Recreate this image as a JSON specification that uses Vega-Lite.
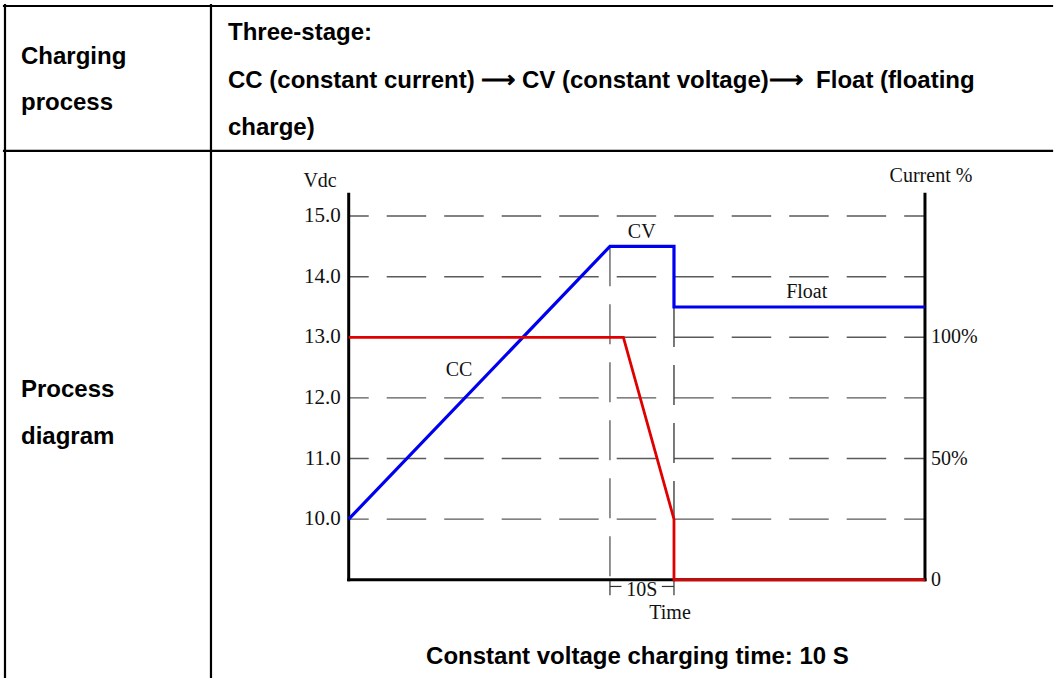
{
  "$schema": "https://vega.github.io/schema/vega-lite/v6.json",
  "width": 1062,
  "height": 679,
  "padding": 0,
  "autosize": {"type": "fit", "contains": "padding"},
  "background": "white",
  "config": {"view": {"stroke": null}},
  "datasets": {
    "blue": [{"t": 0, "V": 10}, {"t": 40.8, "V": 14.5}, {"t": 50.8, "V": 14.5}, {"t": 50.8, "V": 13.5}, {"t": 90, "V": 13.5}],
    "red": [{"t": 0, "c": 100}, {"t": 42.9, "c": 100}, {"t": 50.8, "c": 25}, {"t": 50.8, "c": 0}, {"t": 90, "c": 0}],
    "grid": [{"V": 10}, {"V": 11}, {"V": 12}, {"V": 13}, {"V": 14}, {"V": 15}],
    "ticks": [{"V": 10, "label": "10.0"}, {"V": 11, "label": "11.0"}, {"V": 12, "label": "12.0"}, {"V": 13, "label": "13.0"}, {"V": 14, "label": "14.0"}, {"V": 15, "label": "15.0"}],
    "pct": [{"c": 100, "label": "100%"}, {"c": 50, "label": "50%"}, {"c": 0, "label": "0"}],
    "axislines": [
      {"t": 0, "t2": 0, "V": 9, "V2": 15.36},
      {"t": 0, "t2": 90, "V": 9, "V2": 9},
      {"t": 90, "t2": 90, "V": 9, "V2": 15.36}
    ],
    "bracket": [
      {"t": 40.8, "t2": 42.6, "V": 8.89, "V2": 8.89},
      {"t": 48.9, "t2": 50.8, "V": 8.89, "V2": 8.89},
      {"t": 40.8, "t2": 40.8, "V": 9, "V2": 8.745},
      {"t": 50.8, "t2": 50.8, "V": 9, "V2": 8.745}
    ],
    "notes": [
      {"t": -4.47, "V": 15.571, "text": "Vdc"},
      {"t": 45.76, "V": 14.732, "text": "CV"},
      {"t": 71.53, "V": 13.753, "text": "Float"},
      {"t": 17.23, "V": 12.467, "text": "CC"},
      {"t": 45.76, "V": 8.836, "text": "10S"},
      {"t": 50.18, "V": 8.449, "text": "Time"},
      {"t": 90.94, "V": 15.653, "text": "Current %"}
    ],
    "frame": [
      {"t": -53.83, "t2": 109.84, "V": 18.465, "V2": 18.465},
      {"t": -53.68, "t2": -53.68, "V": 18.48, "V2": 7.3964},
      {"t": -21.51, "t2": -21.51, "V": 18.48, "V2": 7.3964},
      {"t": -53.83, "t2": 109.84, "V": 16.076, "V2": 16.076}
    ],
    "cells": [
      {"t": -51.18, "V": 17.511, "text": "Charging"},
      {"t": -51.18, "V": 16.755, "text": "process"},
      {"t": -51.18, "V": 12.013, "text": "Process"},
      {"t": -51.18, "V": 11.245, "text": "diagram"},
      {"t": -18.85, "V": 17.906, "text": "Three-stage:"},
      {"t": -18.85, "V": 17.117, "text": "CC (constant current) ⟶ CV (constant voltage)⟶\u00a0 Float (floating"},
      {"t": -18.85, "V": 16.344, "text": "charge)"}
    ],
    "caption": [{"t": 45.1, "V": 7.618, "text": "Constant voltage charging time: 10 S"}]
  },
  "layer": [
    {
      "layer": [
        {
          "data": {"name": "grid"},
          "mark": {"type": "rule", "color": "#5a5a5a", "strokeWidth": 1.4, "strokeDash": [39.5, 18], "strokeDashOffset": 19.5},
          "encoding": {
            "x": {"datum": 0, "type": "quantitative", "scale": {"domain": [-54.46, 111.4], "nice": false, "zero": false}, "axis": null},
            "x2": {"datum": 90},
            "y": {"field": "V", "type": "quantitative", "scale": {"domain": [7.3964, 18.564], "nice": false, "zero": false}, "axis": null}
          }
        },
        {
          "data": {"values": [{}]},
          "mark": {"type": "rule", "color": "#777777", "strokeWidth": 1.6, "strokeDash": [40, 18]},
          "encoding": {
            "x": {"datum": 40.8, "type": "quantitative", "scale": {"domain": [-54.46, 111.4], "nice": false, "zero": false}, "axis": null},
            "y": {"datum": 14.5, "type": "quantitative", "scale": {"domain": [7.3964, 18.564], "nice": false, "zero": false}, "axis": null},
            "y2": {"datum": 9}
          }
        },
        {
          "data": {"values": [{}]},
          "mark": {"type": "rule", "color": "#222222", "strokeWidth": 1.2, "strokeDash": [40, 18]},
          "encoding": {
            "x": {"datum": 50.8, "type": "quantitative", "scale": {"domain": [-54.46, 111.4], "nice": false, "zero": false}, "axis": null},
            "y": {"datum": 13.5, "type": "quantitative", "scale": {"domain": [7.3964, 18.564], "nice": false, "zero": false}, "axis": null},
            "y2": {"datum": 9}
          }
        },
        {
          "data": {"name": "bracket"},
          "mark": {"type": "rule", "color": "#333333", "strokeWidth": 1.2},
          "encoding": {
            "x": {"field": "t", "type": "quantitative", "scale": {"domain": [-54.46, 111.4], "nice": false, "zero": false}, "axis": null},
            "x2": {"field": "t2"},
            "y": {"field": "V", "type": "quantitative", "scale": {"domain": [7.3964, 18.564], "nice": false, "zero": false}, "axis": null},
            "y2": {"field": "V2"}
          }
        },
        {
          "data": {"name": "axislines"},
          "mark": {"type": "rule", "color": "black", "strokeWidth": 3, "strokeCap": "square"},
          "encoding": {
            "x": {"field": "t", "type": "quantitative", "scale": {"domain": [-54.46, 111.4], "nice": false, "zero": false}, "axis": null},
            "x2": {"field": "t2"},
            "y": {"field": "V", "type": "quantitative", "scale": {"domain": [7.3964, 18.564], "nice": false, "zero": false}, "axis": null},
            "y2": {"field": "V2"}
          }
        },
        {
          "data": {"name": "blue"},
          "mark": {"type": "line", "color": "#0000f0", "strokeWidth": 3.2},
          "encoding": {
            "x": {"field": "t", "type": "quantitative", "scale": {"domain": [-54.46, 111.4], "nice": false, "zero": false}, "axis": null},
            "y": {"field": "V", "type": "quantitative", "scale": {"domain": [7.3964, 18.564], "nice": false, "zero": false}, "axis": null},
            "order": {"value": null}
          }
        },
        {
          "data": {"name": "ticks"},
          "mark": {"type": "text", "align": "right", "baseline": "middle", "dx": -8, "font": "Liberation Serif", "fontSize": 21, "color": "#111111"},
          "encoding": {
            "x": {"datum": 0, "type": "quantitative", "scale": {"domain": [-54.46, 111.4], "nice": false, "zero": false}, "axis": null},
            "y": {"field": "V", "type": "quantitative", "scale": {"domain": [7.3964, 18.564], "nice": false, "zero": false}, "axis": null},
            "text": {"field": "label"}
          }
        },
        {
          "data": {"name": "notes"},
          "mark": {"type": "text", "align": "center", "baseline": "middle", "font": "Liberation Serif", "fontSize": 20, "color": "#111111"},
          "encoding": {
            "x": {"field": "t", "type": "quantitative", "scale": {"domain": [-54.46, 111.4], "nice": false, "zero": false}, "axis": null},
            "y": {"field": "V", "type": "quantitative", "scale": {"domain": [7.3964, 18.564], "nice": false, "zero": false}, "axis": null},
            "text": {"field": "text"}
          }
        },
        {
          "data": {"name": "frame"},
          "mark": {"type": "rule", "color": "black", "strokeWidth": 2.2, "strokeCap": "square"},
          "encoding": {
            "x": {"field": "t", "type": "quantitative", "scale": {"domain": [-54.46, 111.4], "nice": false, "zero": false}, "axis": null},
            "x2": {"field": "t2"},
            "y": {"field": "V", "type": "quantitative", "scale": {"domain": [7.3964, 18.564], "nice": false, "zero": false}, "axis": null},
            "y2": {"field": "V2"}
          }
        },
        {
          "data": {"name": "cells"},
          "mark": {"type": "text", "align": "left", "baseline": "alphabetic", "font": "Liberation Sans", "fontWeight": "bold", "fontSize": 24, "color": "black"},
          "encoding": {
            "x": {"field": "t", "type": "quantitative", "scale": {"domain": [-54.46, 111.4], "nice": false, "zero": false}, "axis": null},
            "y": {"field": "V", "type": "quantitative", "scale": {"domain": [7.3964, 18.564], "nice": false, "zero": false}, "axis": null},
            "text": {"field": "text"}
          }
        },
        {
          "data": {"name": "caption"},
          "mark": {"type": "text", "align": "center", "baseline": "alphabetic", "font": "Liberation Sans", "fontWeight": "bold", "fontSize": 24, "color": "black"},
          "encoding": {
            "x": {"field": "t", "type": "quantitative", "scale": {"domain": [-54.46, 111.4], "nice": false, "zero": false}, "axis": null},
            "y": {"field": "V", "type": "quantitative", "scale": {"domain": [7.3964, 18.564], "nice": false, "zero": false}, "axis": null},
            "text": {"field": "text"}
          }
        }
      ]
    },
    {
      "layer": [
        {
          "data": {"name": "red"},
          "mark": {"type": "line", "color": "#e00000", "strokeWidth": 2.8},
          "encoding": {
            "x": {"field": "t", "type": "quantitative", "scale": {"domain": [-54.46, 111.4], "nice": false, "zero": false}, "axis": null},
            "y": {"field": "c", "type": "quantitative", "scale": {"domain": [-40.09, 239.1], "nice": false, "zero": false}, "axis": null},
            "order": {"value": null}
          }
        },
        {
          "data": {"name": "pct"},
          "mark": {"type": "text", "align": "left", "baseline": "middle", "dx": 6, "font": "Liberation Serif", "fontSize": 20, "color": "#111111"},
          "encoding": {
            "x": {"datum": 90, "type": "quantitative", "scale": {"domain": [-54.46, 111.4], "nice": false, "zero": false}, "axis": null},
            "y": {"field": "c", "type": "quantitative", "scale": {"domain": [-40.09, 239.1], "nice": false, "zero": false}, "axis": null},
            "text": {"field": "label"}
          }
        }
      ]
    }
  ],
  "resolve": {"scale": {"y": "independent"}}
}
